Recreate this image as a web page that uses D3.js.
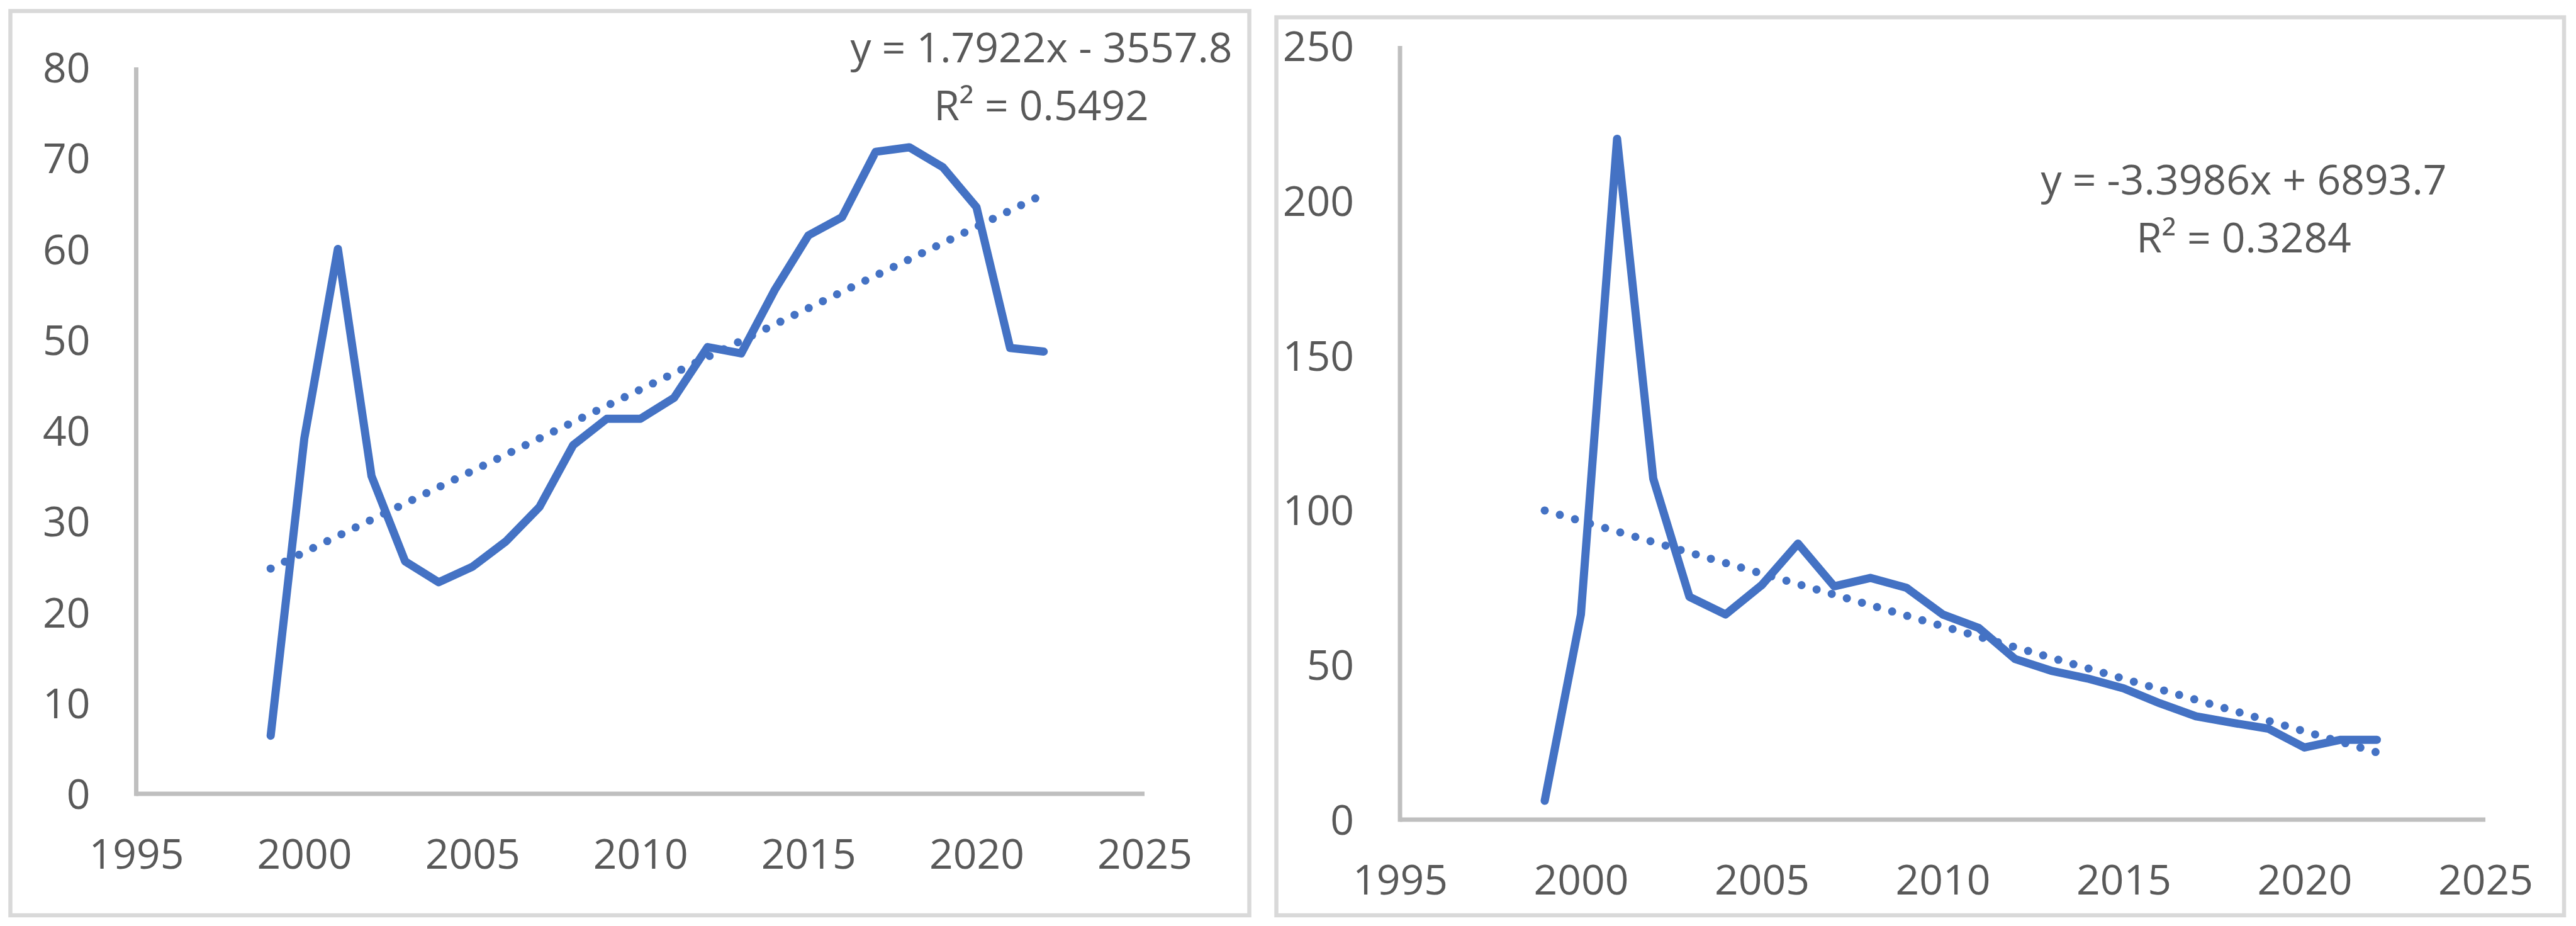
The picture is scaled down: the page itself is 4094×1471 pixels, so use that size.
<!DOCTYPE html>
<html>
<head>
<meta charset="utf-8">
<script src="https://cdn.jsdelivr.net/npm/d3@7"></script>
<style>
  html, body { margin: 0; padding: 0; background: #ffffff; }
  svg { display: block; }
  text { font-family: "Open Sans", "Noto Sans", "Liberation Sans", sans-serif; fill: #595959; }
</style>
</head>
<body>
<svg id="chart" width="4094" height="1471"></svg>
<script>
// ---------------- DATA ----------------
const years = [1999, 2000, 2001, 2002, 2003, 2004, 2005, 2006, 2007, 2008, 2009, 2010,
               2011, 2012, 2013, 2014, 2015, 2016, 2017, 2018, 2019, 2020, 2021, 2022];

const seriesLeft = [6.4, 39.1, 60.0, 35.0, 25.6, 23.3, 25.0, 27.8, 31.6, 38.4, 41.3, 41.3,
                    43.6, 49.2, 48.5, 55.5, 61.5, 63.5, 70.7, 71.2, 69.0, 64.6, 49.1, 48.7];

const seriesRight = [6.1, 66.3, 220.0, 110.2, 72.0, 66.3, 75.8, 89.2, 75.4, 78.1, 74.9, 66.3,
                     61.9, 51.9, 48.1, 45.6, 42.4, 37.6, 33.4, 31.3, 29.4, 23.3, 25.8, 25.8];

const xTicks = [1995, 2000, 2005, 2010, 2015, 2020, 2025];
const yTicksLeft = [0, 10, 20, 30, 40, 50, 60, 70, 80];
const yTicksRight = [0, 50, 100, 150, 200, 250];

// linear trendlines as printed on the chart: [slope, intercept]
const trendLeft = [1.7922, -3557.8];
const trendRight = [-3.3986, 6893.7];

const eqLeft = ["y = 1.7922x - 3557.8", "R² = 0.5492"];
const eqRight = ["y = -3.3986x + 6893.7", "R² = 0.3284"];

// ---------------- LAYOUT ----------------
const panels = [
  {
    box: { x0: 16.5, y0: 17.5, x1: 1985.5, y1: 1454 },
    xRange: [216.5, 1819], yRange: [1261, 107],
    yDomain: [0, 80], values: seriesLeft, yTicks: yTicksLeft,
    trend: trendLeft, eq: eqLeft, eqX: 1655, eqY: 99
  },
  {
    box: { x0: 2028.5, y0: 27.5, x1: 4075, y1: 1454 },
    xRange: [2225, 3950], yRange: [1302, 73],
    yDomain: [0, 250], values: seriesRight, yTicks: yTicksRight,
    trend: trendRight, eq: eqRight, eqX: 3566, eqY: 309
  }
];

const svg = d3.select("#chart");
const FONT = 66;
const CAP = 23.5;   // half cap height for vertical centering
const blue = "#4472C4";

panels.forEach(p => {
  const g = svg.append("g");

  // panel border
  g.append("rect")
    .attr("x", p.box.x0).attr("y", p.box.y0)
    .attr("width", p.box.x1 - p.box.x0).attr("height", p.box.y1 - p.box.y0)
    .attr("fill", "#ffffff").attr("stroke", "#d9d9d9").attr("stroke-width", 6.5);

  const x = d3.scaleLinear().domain([xTicks[0], xTicks[xTicks.length - 1]]).range(p.xRange);
  const y = d3.scaleLinear().domain(p.yDomain).range(p.yRange);

  // Y axis
  const yAxis = d3.axisLeft(y).tickValues(p.yTicks).tickSize(0).tickPadding(73)
    .tickFormat(d3.format("d"));
  const ya = g.append("g").attr("transform", `translate(${p.xRange[0]},0)`).call(yAxis);
  ya.select(".domain").attr("stroke", "#bfbfbf").attr("stroke-width", 7)
    .attr("d", `M0,${p.yRange[0] + 3.5}V${p.yRange[1]}`);
  ya.selectAll("text").attr("font-size", FONT).attr("fill", "#595959")
    .attr("font-family", null).attr("dy", null).attr("y", CAP);

  // X axis
  const xAxis = d3.axisBottom(x).tickValues(xTicks).tickSize(0).tickPadding(0)
    .tickFormat(d3.format("d"));
  const xa = g.append("g").attr("transform", `translate(0,${p.yRange[0]})`).call(xAxis);
  xa.select(".domain").attr("stroke", "#bfbfbf").attr("stroke-width", 7)
    .attr("d", `M${p.xRange[0]},0H${p.xRange[1]}`);
  xa.selectAll("text").attr("font-size", FONT).attr("fill", "#595959")
    .attr("font-family", null).attr("dy", null).attr("y", 95 + CAP);

  // data line
  const line = d3.line().x((d, i) => x(years[i])).y(d => y(d));
  g.append("path").datum(p.values)
    .attr("d", line)
    .attr("fill", "none").attr("stroke", blue).attr("stroke-width", 13)
    .attr("stroke-linejoin", "round").attr("stroke-linecap", "round");

  // trendline (dotted)
  const tYears = [years[0], years[years.length - 1]];
  const tLine = d3.line().x(d => x(d)).y(d => y(p.trend[0] * d + p.trend[1]));
  g.append("path").datum(tYears)
    .attr("d", tLine)
    .attr("fill", "none").attr("stroke", blue).attr("stroke-width", 13)
    .attr("stroke-linecap", "round").attr("stroke-dasharray", "0 25");

  // equation labels
  p.eq.forEach((t, i) => {
    g.append("text")
      .attr("x", p.eqX).attr("y", p.eqY + i * 92)
      .attr("text-anchor", "middle")
      .attr("font-size", FONT)
      .text(t);
  });
});
</script>
</body>
</html>
